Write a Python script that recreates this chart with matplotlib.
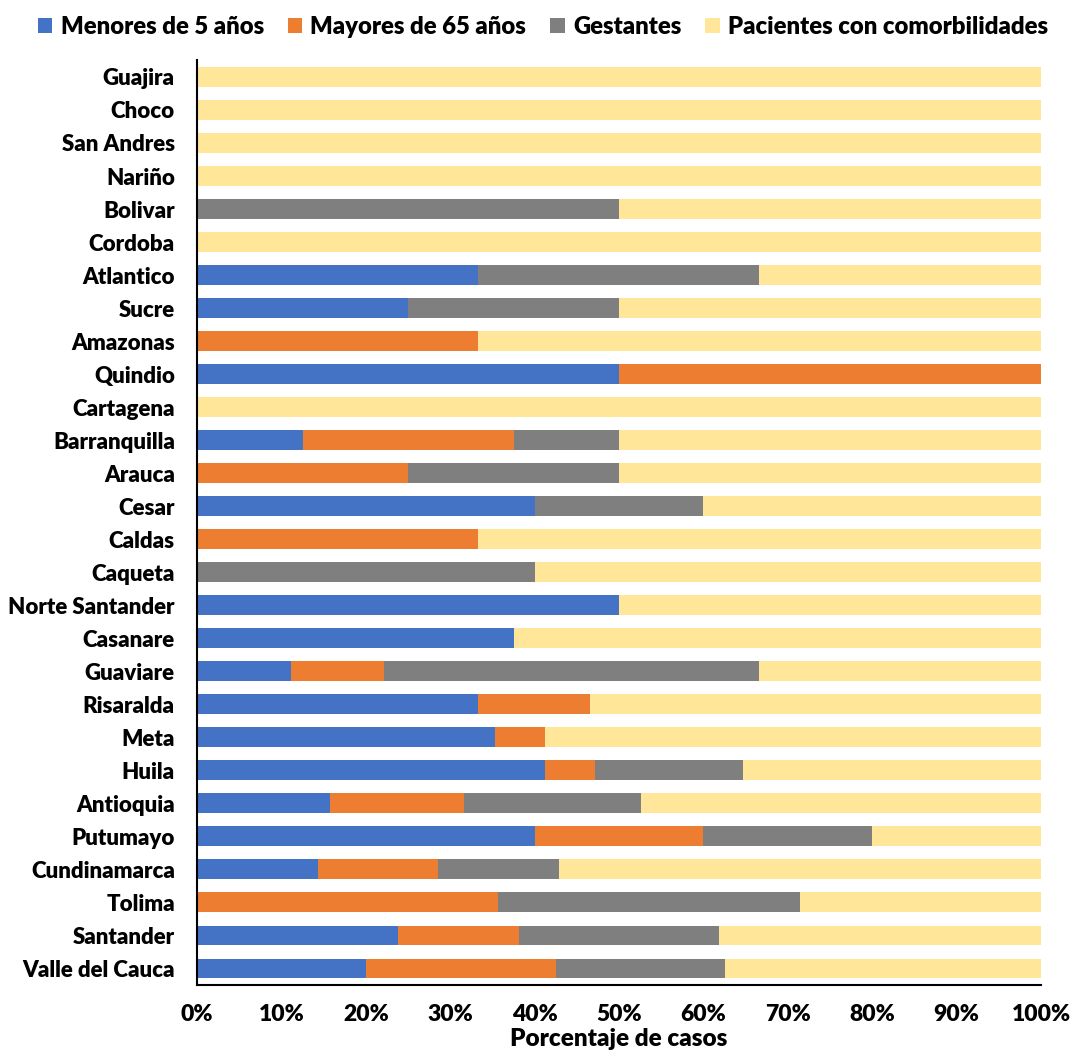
import matplotlib.pyplot as plt
import numpy as np
from matplotlib.ticker import PercentFormatter

plt.rcParams['font.family'] = ['Lato', 'DejaVu Sans']

departamentos = ["Guajira", "Choco", "San Andres", "Nariño", "Bolivar", "Cordoba",
                 "Atlantico", "Sucre", "Amazonas", "Quindio", "Cartagena", "Barranquilla",
                 "Arauca", "Cesar", "Caldas", "Caqueta", "Norte Santander", "Casanare",
                 "Guaviare", "Risaralda", "Meta", "Huila", "Antioquia", "Putumayo",
                 "Cundinamarca", "Tolima", "Santander", "Valle del Cauca"]

# porcentajes por grupo
menores5 = [0, 0, 0, 0, 0, 0, 33.3, 25, 0, 50, 0, 12.5, 0, 40, 0, 0, 50, 37.5,
            11.1, 33.3, 35.3, 41.2, 15.8, 40, 14.3, 0, 23.8, 20]
mayores65 = [0, 0, 0, 0, 0, 0, 0, 0, 33.3, 50, 0, 25, 25, 0, 33.3, 0, 0, 0,
             11.1, 13.3, 5.9, 5.9, 15.8, 20, 14.3, 35.7, 14.3, 22.5]
gestantes = [0, 0, 0, 0, 50, 0, 33.3, 25, 0, 0, 0, 12.5, 25, 20, 0, 40, 0, 0,
             44.4, 0, 0, 17.6, 21.0, 20, 14.3, 35.7, 23.8, 20]
comorbilidades = [100, 100, 100, 100, 50, 100, 33.4, 50, 66.7, 0, 100, 50, 50, 40, 66.7, 60, 50, 62.5,
                  33.4, 53.4, 58.8, 35.3, 47.4, 20, 57.1, 28.6, 38.1, 37.5]

series = [("Menores de 5 años", menores5, "#4472C4"),
          ("Mayores de 65 años", mayores65, "#ED7D31"),
          ("Gestantes", gestantes, "#7F7F7F"),
          ("Pacientes con comorbilidades", comorbilidades, "#FFE699")]

fig = plt.figure(figsize=(10.71, 10.55), dpi=100)
ax = fig.add_axes([0.184, 0.0664, 0.788, 0.8763])

y = np.arange(len(departamentos))
left = np.zeros(len(departamentos))
for nombre, vals, color in series:
    vals = np.array(vals)
    ax.barh(y, vals, left=left, height=0.6, color=color, label=nombre)
    left += vals

ax.set_ylim(len(departamentos) - 0.5, -0.5)
ax.set_xlim(0, 100)
ax.set_yticks(y)
ax.set_yticklabels(departamentos, fontsize=16, fontweight='heavy')
ax.set_xticks(np.arange(0, 101, 10))
ax.xaxis.set_major_formatter(PercentFormatter(decimals=0))
for t in ax.get_xticklabels():
    t.set_fontsize(16.5)
    t.set_fontweight('heavy')
ax.tick_params(axis='y', length=0, pad=16)
ax.tick_params(axis='x', length=0, pad=14)
ax.set_xlabel("Porcentaje de casos", fontsize=17.5, fontweight='heavy', labelpad=2)

ax.spines['top'].set_visible(False)
ax.spines['right'].set_visible(False)
ax.spines['left'].set_linewidth(1.5)
ax.spines['bottom'].set_linewidth(1.5)

fig.legend(loc='upper center', bbox_to_anchor=(0.507, 1.005), ncol=4, frameon=False,
           prop={'size': 17.2, 'weight': 'heavy'}, handlelength=0.6, handleheight=0.6,
           handletextpad=0.35, columnspacing=1.0)

fig.savefig("out.png", dpi=100)
